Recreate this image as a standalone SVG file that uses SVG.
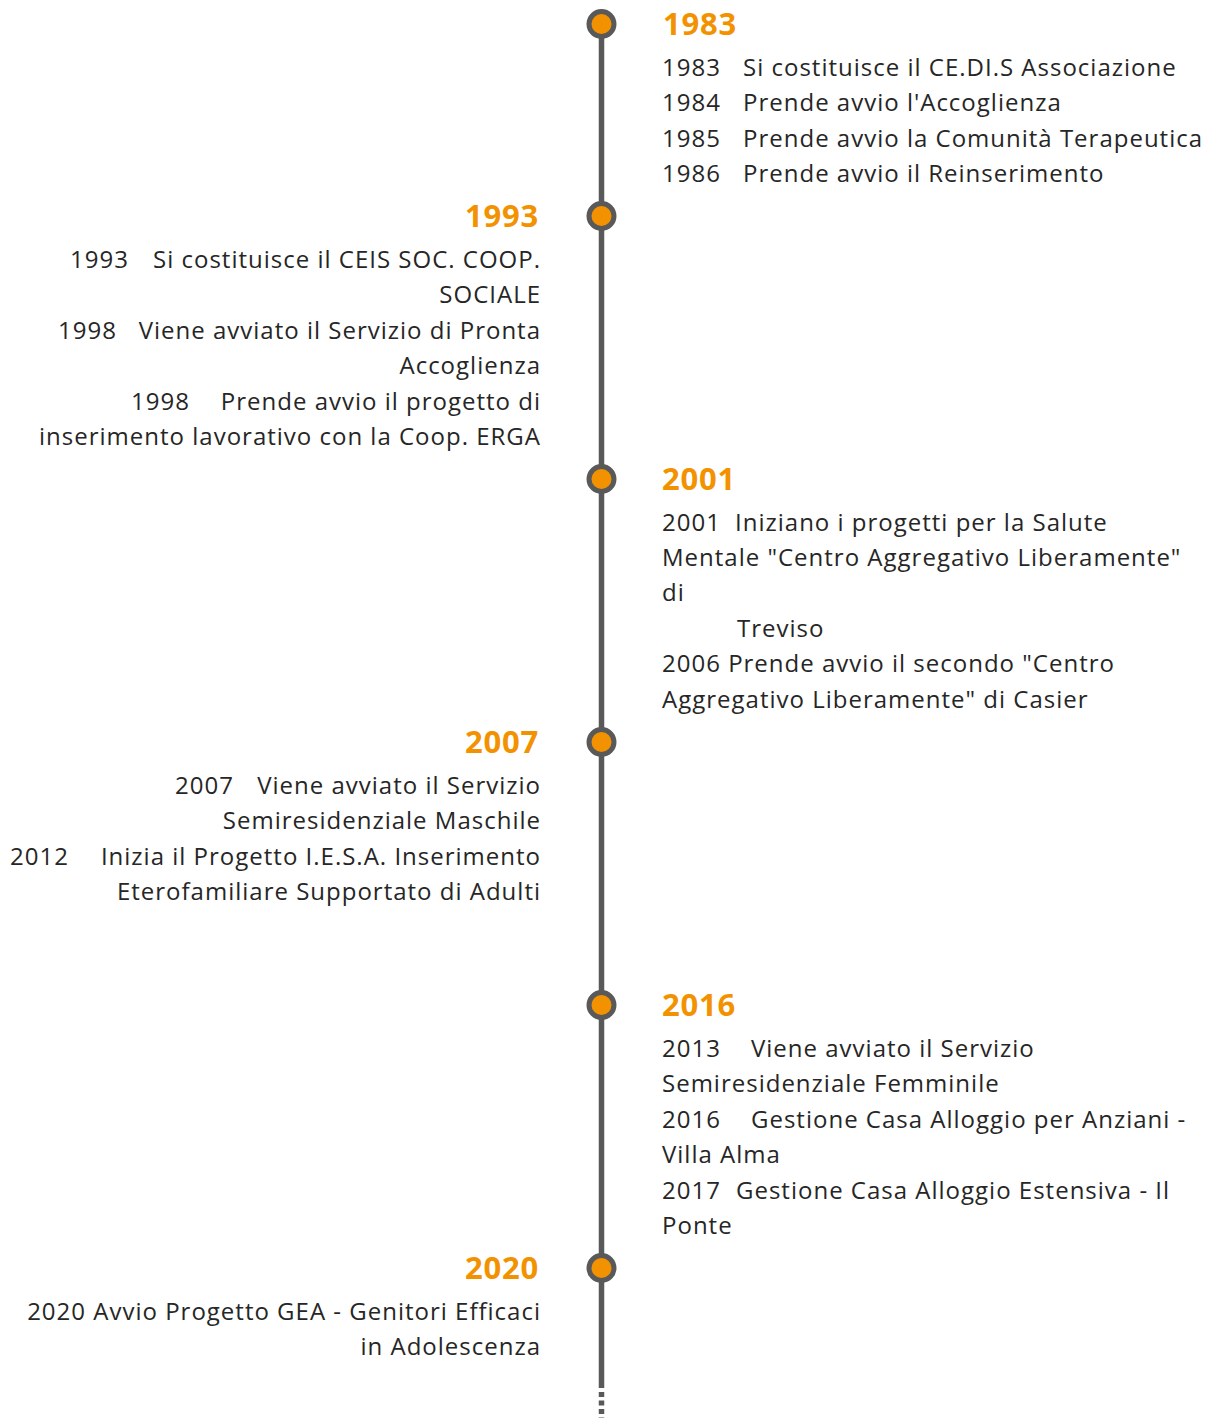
<svg xmlns="http://www.w3.org/2000/svg" width="1210" height="1418" viewBox="0 0 1210 1418">
<style>
.t{font-family:"Open Sans","Noto Sans",sans-serif;font-size:24px;letter-spacing:1px;fill:#262626}
.h{font-family:"Open Sans","Noto Sans",sans-serif;font-size:31px;letter-spacing:0.8px;font-weight:bold;fill:#F39200}
.e{text-anchor:end}
.dot{fill:#F39200;stroke:#595959;stroke-width:5}
</style>
<rect width="1210" height="1418" fill="#ffffff"/>
<g id="connectors">
<line x1="601.5" y1="24" x2="601.5" y2="1388" stroke="#595959" stroke-width="5.5"/>
<line x1="601.5" y1="1392" x2="601.5" y2="1418" stroke="#595959" stroke-width="5.5" stroke-dasharray="5,3.5"/>
</g>
<g id="n1983">
<circle class="dot" cx="601.5" cy="24" r="12.5"/>
<text class="h" x="663" y="35">1983</text>
<text class="t" x="662" y="76">1983</text><text class="t" x="743" y="76">Si costituisce il CE.DI.S Associazione</text>
<text class="t" x="662" y="111">1984</text><text class="t" x="743" y="111">Prende avvio l'Accoglienza</text>
<text class="t" x="662" y="147">1985</text><text class="t" x="743" y="147">Prende avvio la Comunità Terapeutica</text>
<text class="t" x="662" y="182">1986</text><text class="t" x="743" y="182">Prende avvio il Reinserimento</text>
</g>
<g id="n1993">
<circle class="dot" cx="601.5" cy="216" r="12.5"/>
<text class="h e" x="539" y="227">1993</text>
<text class="t" x="70" y="268">1993</text><text class="t e" x="541" y="268">Si costituisce il CEIS SOC. COOP.</text>
<text class="t e" x="541" y="303">SOCIALE</text>
<text class="t" x="58" y="339">1998</text><text class="t e" x="541" y="339">Viene avviato il Servizio di Pronta</text>
<text class="t e" x="541" y="374">Accoglienza</text>
<text class="t" x="131" y="410">1998</text><text class="t e" x="541" y="410">Prende avvio il progetto di</text>
<text class="t e" x="541" y="445">inserimento lavorativo con la Coop. ERGA</text>
</g>
<g id="n2001">
<circle class="dot" cx="601.5" cy="479" r="12.5"/>
<text class="h" x="662" y="490">2001</text>
<text class="t" x="662" y="531">2001</text><text class="t" x="735" y="531">Iniziano i progetti per la Salute</text>
<text class="t" x="662" y="566">Mentale "Centro Aggregativo Liberamente"</text>
<text class="t" x="662" y="601">di</text>
<text class="t" x="737" y="637">Treviso</text>
<text class="t" x="662" y="672">2006 Prende avvio il secondo "Centro</text>
<text class="t" x="662" y="708">Aggregativo Liberamente" di Casier</text>
</g>
<g id="n2007">
<circle class="dot" cx="601.5" cy="742" r="12.5"/>
<text class="h e" x="539" y="753">2007</text>
<text class="t" x="175" y="794">2007</text><text class="t e" x="541" y="794">Viene avviato il Servizio</text>
<text class="t e" x="541" y="829">Semiresidenziale Maschile</text>
<text class="t" x="10" y="865">2012</text><text class="t e" x="541" y="865">Inizia il Progetto I.E.S.A. Inserimento</text>
<text class="t e" x="541" y="900">Eterofamiliare Supportato di Adulti</text>
</g>
<g id="n2016">
<circle class="dot" cx="601.5" cy="1005" r="12.5"/>
<text class="h" x="662" y="1016">2016</text>
<text class="t" x="662" y="1057">2013</text><text class="t" x="751" y="1057">Viene avviato il Servizio</text>
<text class="t" x="662" y="1092">Semiresidenziale Femminile</text>
<text class="t" x="662" y="1128">2016</text><text class="t" x="751" y="1128">Gestione Casa Alloggio per Anziani -</text>
<text class="t" x="662" y="1163">Villa Alma</text>
<text class="t" x="662" y="1199">2017</text><text class="t" x="736" y="1199">Gestione Casa Alloggio Estensiva - Il</text>
<text class="t" x="662" y="1234">Ponte</text>
</g>
<g id="n2020">
<circle class="dot" cx="601.5" cy="1268" r="12.5"/>
<text class="h e" x="539" y="1279">2020</text>
<text class="t e" x="541" y="1320">2020 Avvio Progetto GEA - Genitori Efficaci</text>
<text class="t e" x="541" y="1355">in Adolescenza</text>
</g>
</svg>
